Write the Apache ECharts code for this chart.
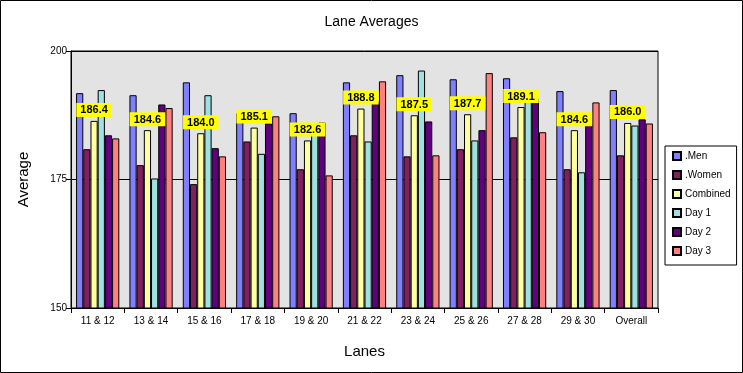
<!DOCTYPE html>
<html>
<head>
<meta charset="utf-8">
<script src="https://cdn.jsdelivr.net/npm/echarts@6/dist/echarts.min.js"></script>
<style>
html,body{margin:0;padding:0;background:#fff;}
#chart{width:743px;height:373px;}
</style>
</head>
<body>
<div id="chart"></div>
<script>
var categories = ['11 & 12','13 & 14','15 & 16','17 & 18','19 & 20','21 & 22','23 & 24','25 & 26','27 & 28','29 & 30','Overall'];
var men      = [191.8,191.4,193.9,187.9,187.9,193.9,195.3,194.5,194.7,192.2,192.4];
var women    = [180.9,177.8,174.1,182.4,177.0,183.6,179.5,180.9,183.2,177.0,179.7];
var combined = [186.4,184.6,184.0,185.1,182.6,188.8,187.5,187.7,189.1,184.6,186.0];
var day1     = [192.4,175.2,191.4,180.0,185.0,182.4,196.2,182.6,192.6,176.4,185.5];
var day2     = [183.6,189.6,181.1,185.9,186.1,190.2,186.3,184.6,190.8,185.8,186.7];
var day3     = [183.0,188.9,179.5,187.3,175.8,194.1,179.7,195.7,184.2,190.0,185.9];
var seriesNames = ['.Men','.Women','Combined','Day 1','Day 2','Day 3'];
var seriesData = [men, women, combined, day1, day2, day3];
var colors = ['#8080ff','#802060','#ffffa0','#a0e0e0','#600080','#ff8080'];
var yTicks = [150, 175, 200];

var FONT = 'Liberation Sans';
var chart = echarts.init(document.getElementById('chart'));
var series = seriesNames.map(function(n, i){
  var s = {
    name: n,
    type: 'bar',
    data: seriesData[i],
    barGap: '0%',
    barCategoryGap: '19%',
    itemStyle: { color: colors[i], borderColor: '#000', borderWidth: 1 }
  };
  if (i === 2) {
    s.label = {
      show: true, position: 'top', distance: 4,
      formatter: function(p){ return p.value.toFixed(1); },
      backgroundColor: '#ffff00', padding: [2, 4, 1, 4],
      color: '#000', fontWeight: 'bold', fontSize: 11, fontFamily: FONT
    };
    s.z = 3;
  }
  return s;
});
chart.setOption({
  backgroundColor: '#fff',
  animation: false,
  color: colors,
  title: {
    text: 'Lane Averages', left: 'center', top: 10,
    textStyle: { fontSize: 14, fontWeight: 'normal', color: '#000', fontFamily: FONT }
  },
  grid: {
    left: 71, right: 85, top: 51, bottom: 65,
    show: true, backgroundColor: '#e3e3e3', borderColor: '#000', borderWidth: 1
  },
  legend: {
    orient: 'vertical', left: 665, top: 146,
    itemWidth: 8, itemHeight: 8, itemGap: 9,
    padding: [5, 6, 9, 7],
    borderColor: '#000', borderWidth: 1,
    textStyle: { fontSize: 10, color: '#000', fontFamily: FONT, padding: [0,0,0,-1] },
    data: seriesNames.map(function(n){ return { name: n, icon: 'rect' }; })
  },
  xAxis: {
    type: 'category', data: categories,
    name: 'Lanes', nameLocation: 'middle', nameGap: 36,
    nameTextStyle: { fontSize: 15, color: '#000', fontFamily: FONT },
    axisLine: { lineStyle: { color: '#000' } },
    axisTick: { show: true, length: 5, lineStyle: { color: '#000' } },
    axisLabel: { color: '#000', fontSize: 10, margin: 8, fontFamily: FONT, interval: 0 }
  },
  yAxis: {
    type: 'value', min: yTicks[0], max: yTicks[2], interval: 25,
    name: 'Average', nameLocation: 'middle', nameGap: 40, nameRotate: 90,
    nameTextStyle: { fontSize: 15, color: '#000', fontFamily: FONT },
    axisLine: { show: true, lineStyle: { color: '#000' } },
    axisTick: { show: true, length: 5, lineStyle: { color: '#000' } },
    axisLabel: { color: '#000', fontSize: 10, margin: 4, fontFamily: FONT },
    splitLine: { show: true, lineStyle: { color: '#000', width: 1 } }
  },
  graphic: [{
    type: 'rect', shape: { x: 0.5, y: 0.5, width: 742, height: 372 },
    style: { fill: 'none', stroke: '#000', lineWidth: 1 }, silent: true, z: 100
  }],
  series: series
});
</script>
</body>
</html>
